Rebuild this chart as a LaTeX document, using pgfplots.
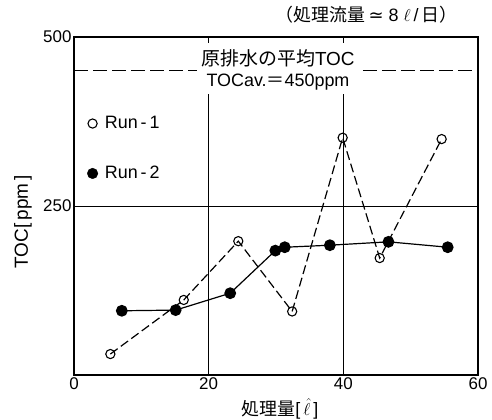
\documentclass[border=0pt]{standalone}
\usepackage{fontspec}
\setmainfont{Liberation Sans}
\newfontfamily\jp{Noto Sans CJK JP}
\newfontfamily\dv{DejaVu Sans}
\usepackage{pgfplots}
\pgfplotsset{compat=1.18}
\begin{document}
\begin{tikzpicture}[font=\fontsize{18}{20}\selectfont]
\begin{axis}[
  width=404bp, height=338bp, scale only axis,
  xmin=0, xmax=60, ymin=0, ymax=500,
  xtick={0,20,40,60}, ytick={250,500},
  tick align=inside, tick pos=both,
  major tick length=6bp,
  axis line style={line width=1.3bp},
  every tick/.style={black, line width=0.8bp},
  /pgf/number format/assume math mode=true,
  ticklabel style={font=\fontsize{17}{19}\selectfont},
  xticklabel style={inner sep=1bp, yshift=-1bp},
  yticklabel style={xshift=1bp},
  xlabel={{\jp 処理量}[\,$\hat{\ell}$\,]},
  ylabel={TOC[\,ppm\,]},
  xlabel style={at={(axis description cs:0.51,0)}, anchor=center, inner sep=0bp, yshift=-34bp, font=\fontsize{18}{20}\selectfont},
  ylabel style={at={(axis description cs:0,0.453)}, anchor=center, yshift=51bp, font=\fontsize{19}{21}\selectfont},
  clip=false,
  legend style={at={(axis cs:1.5,335)}, anchor=west, draw=none, fill=none,
    row sep=32bp, font=\fontsize{18}{20}\selectfont},
  legend cell align=left,
]
% grid lines
\draw[line width=0.8bp] (axis cs:20,0) -- (axis cs:20,415);
\draw[line width=0.8bp] (axis cs:40,0) -- (axis cs:40,415);
\draw[line width=0.8bp] (axis cs:0,250) -- (axis cs:60,250);
% average line
\draw[line width=0.9bp, dash pattern=on 14bp off 5bp] (axis cs:0,450) -- (axis cs:18.3,450);
\draw[line width=0.9bp, dash pattern=on 14bp off 5bp] (axis cs:42.9,450) -- (axis cs:60,450);
\node[font=\fontsize{19}{21}\selectfont] at (axis cs:30.3,468) {{\jp 原排水の平均}TOC};
\node[font=\fontsize{18}{20}\selectfont] at (axis cs:30.3,434) {TOCav.{\jp ＝}450ppm};

\addlegendimage{only marks, mark=o, mark size=4.6bp, mark options={fill=white, line width=1.1bp}}
\addlegendentry{\hspace{5bp}Run\,-\,1}
\addlegendimage{only marks, mark=*, mark size=5.3bp, mark options={fill=black}}
\addlegendentry{\hspace{5bp}Run\,-\,2}

\addplot[forget plot, black, line width=1.2bp, dash pattern=on 9bp off 4bp,
  mark=o, mark size=4.6bp, mark options={solid, fill=white, line width=1.1bp}]
  coordinates {(5.4,31) (16.3,111) (24.4,198) (32.4,94) (39.9,351) (45.4,173) (54.6,349)};
\addplot[forget plot, black, line width=1.2bp,
  mark=*, mark size=5.3bp, mark options={solid, fill=black}]
  coordinates {(7.1,95) (15.1,96) (23.2,121) (29.9,184) (31.3,189) (38.0,192) (46.7,197) (55.5,189)};

\node[anchor=east, xshift=-17bp, yshift=22bp, font=\fontsize{18}{20}\selectfont]
  at (rel axis cs:1,1) {{\jp （処理流量}\,{\dv ≃}\ 8\ $\ell$\,/\,{\jp 日）}};
\end{axis}
\pgfresetboundingbox
\path ([shift={(-74bp,-45bp)}]current axis.south west) rectangle ([shift={(14bp,37bp)}]current axis.north east);
\end{tikzpicture}
\end{document}
